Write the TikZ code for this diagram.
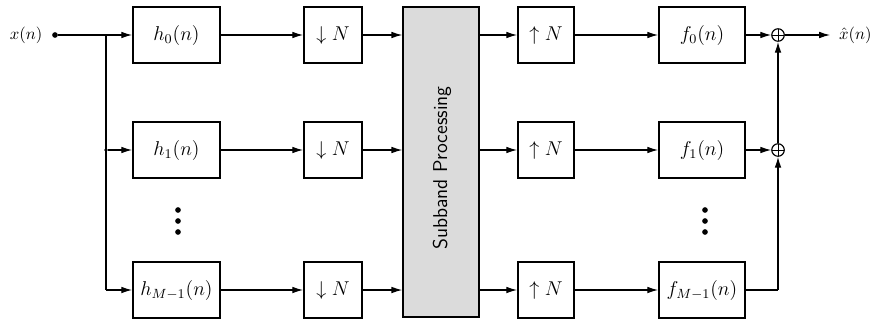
\documentclass[tikz,border=0pt]{standalone}
\usetikzlibrary{arrows.meta}
\begin{document}
\begin{tikzpicture}[x=0.6pt,y=-0.6pt,
  line width=0.7pt,
  >={Latex[length=6.5pt,width=4pt]},
  blk/.style={draw,line width=1.1pt,minimum height=33.6pt,inner sep=0pt,font=\large},
  hbox/.style={blk,minimum width=52.2pt},
  dbox/.style={blk,minimum width=34.8pt},
  ubox/.style={blk,minimum width=33.6pt},
  fbox/.style={blk,minimum width=51.6pt},
  sumnode/.style={draw,circle,line width=0.7pt,minimum size=7.5pt,inner sep=0pt,
    path picture={\draw[line width=0.6pt] (path picture bounding box.north) -- (path picture bounding box.south)
      (path picture bounding box.west) -- (path picture bounding box.east);}},
  dotn/.style={circle,fill,inner sep=0pt,minimum size=3.4pt},
  sdot/.style={circle,fill,inner sep=0pt,minimum size=2.2pt},
  lbl/.style={inner sep=0.5pt}
]
\useasboundingbox (0,0) rectangle (875,327);
% input
\node[lbl] (xin) at (26,35) {$x(n)$};
\node[dotn] (d0) at (55,35) {};
\coordinate (br0) at (106,35);
\node[sdot] (br1) at (106,150) {};
\coordinate (br2) at (106,290);
% analysis filters
\node[hbox] (h0) at (176.5,35) {$h_0(n)$};
\node[hbox] (h1) at (176.5,150) {$h_1(n)$};
\node[hbox] (h2) at (176.5,290) {$h_{M-1}(n)$};
% downsamplers
\node[dbox] (dn0) at (333,35) {$\downarrow N$};
\node[dbox] (dn1) at (333,150) {$\downarrow N$};
\node[dbox] (dn2) at (333,290) {$\downarrow N$};
% subband processing
\node[draw,line width=0.9pt,fill=black!14,minimum width=45.6pt,minimum height=186pt,inner sep=0pt] (sp) at (441,162) {};
\node[rotate=90,font=\sffamily\large] (spt) at (442,168) {Subband Processing};
\coordinate (spi0) at (sp.west |- h0);
\coordinate (spi1) at (sp.west |- h1);
\coordinate (spi2) at (sp.west |- h2);
\coordinate (spo0) at (sp.east |- h0);
\coordinate (spo1) at (sp.east |- h1);
\coordinate (spo2) at (sp.east |- h2);
% upsamplers
\node[ubox] (up0) at (546,35) {$\uparrow N$};
\node[ubox] (up1) at (546,150) {$\uparrow N$};
\node[ubox] (up2) at (546,290) {$\uparrow N$};
% synthesis filters
\node[fbox] (f0) at (702,35) {$f_0(n)$};
\node[fbox] (f1) at (702,150) {$f_1(n)$};
\node[fbox] (f2) at (702,290) {$f_{M-1}(n)$};
% adders
\node[sumnode] (s0) at (778,35) {};
\node[sumnode] (s1) at (778,150) {};
\coordinate (c2) at (778,290);
\coordinate (xo) at (830,35);
\node[lbl,anchor=east] (xout) at (873,35) {$\hat{x}(n)$};
% dots
\foreach \y in {210,221,232} {
  \node[dotn] at (178,\y) {};
  \node[dotn] at (705,\y) {};
}
% connections
\draw (d0) -- (br0);
\draw[->] (br0) -- (h0);
\draw (br0) -- (br2);
\draw[->] (br1) -- (h1);
\draw[->] (br2) -- (h2);
\draw[->] (h0) -- (dn0);
\draw[->] (h1) -- (dn1);
\draw[->] (h2) -- (dn2);
\draw[->] (dn0) -- (spi0);
\draw[->] (dn1) -- (spi1);
\draw[->] (dn2) -- (spi2);
\draw[->] (spo0) -- (up0);
\draw[->] (spo1) -- (up1);
\draw[->] (spo2) -- (up2);
\draw[->] (up0) -- (f0);
\draw[->] (up1) -- (f1);
\draw[->] (up2) -- (f2);
\draw[->] (f0) -- (s0);
\draw[->] (f1) -- (s1);
\draw (f2) -- (c2);
\draw[->] (c2) -- (s1);
\draw[->] (s1) -- (s0);
\draw[->] (s0) -- (xo);
\end{tikzpicture}
\end{document}
